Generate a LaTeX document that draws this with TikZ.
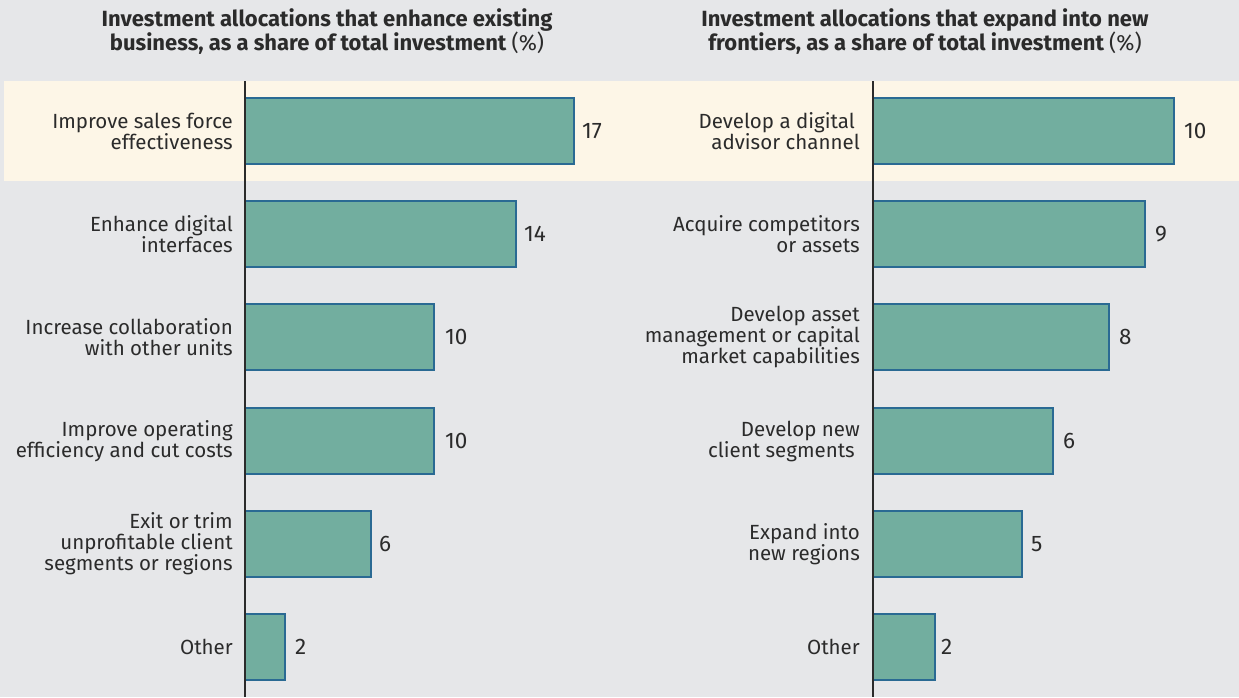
\documentclass[tikz,border=0pt]{standalone}
\usepackage{fontspec}
\setmainfont{Fira Sans}
\usepackage{tikz}
\usetikzlibrary{positioning}
\definecolor{bggray}{HTML}{E6E7E9}
\definecolor{bandcream}{HTML}{FDF6E7}
\definecolor{barfill}{HTML}{72AE9F}
\definecolor{barline}{HTML}{2A6A93}
\definecolor{inkgray}{HTML}{2B2B2B}
\tikzset{
  bar/.style={fill=barfill, draw=barline, line width=1.3pt},
  catlabel/.style={anchor=east, align=right, inner sep=0pt, font=\fontsize{20.5}{21}\selectfont, text=inkgray},
  vallabel/.style={anchor=west, inner sep=0pt, font=\fontsize{22.5}{21}\selectfont, text=inkgray},
  charttitle/.style={align=center, inner sep=0pt, font=\bfseries\fontsize{22}{24}\selectfont, text=inkgray}
}

\begin{document}
\begin{tikzpicture}[x=1pt, y=-1pt]
		%%%%% START %%%%%
		\useasboundingbox (0, 0) rectangle (1239, 697);
		\fill[bggray] (0, 0) rectangle (1239, 697);
		\fill[bandcream] (4, 81) rectangle (1239, 181);
		
		% titles
		\node[charttitle] (titleL) at (327, 32) {Investment allocations that enhance existing\\business, as a share of total investment {\mdseries(\%)}};
		\node[charttitle] (titleR) at (925, 32) {Investment allocations that expand into new\\frontiers, as a share of total investment {\mdseries(\%)}};
		
		% left chart
		\draw[bar] (245, 98) rectangle (574, 164);
		\draw[bar] (245, 201) rectangle (516, 267);
		\draw[bar] (245, 304) rectangle (434, 370);
		\draw[bar] (245, 408) rectangle (434, 474);
		\draw[bar] (245, 511) rectangle (371, 577);
		\draw[bar] (245, 614) rectangle (285, 680);
		\draw[line width=1.3pt, color=inkgray] (245, 81) -- (245, 697);
		
		\node[catlabel] (catL1) at (233, 131) {Improve sales force\\effectiveness};
		\node[catlabel] (catL2) at (233, 234) {Enhance digital\\interfaces};
		\node[catlabel] (catL3) at (233, 337) {Increase collaboration\\with other units};
		\node[catlabel] (catL4) at (233, 441) {Improve operating\\efficiency and cut costs};
		\node[catlabel] (catL5) at (233, 544) {Exit or trim\\unprofitable client\\segments or regions};
		\node[catlabel] (catL6) at (233, 647) {Other};
		
		\node[vallabel] (valL1) at (582, 131) {17};
		\node[vallabel] (valL2) at (524, 234) {14};
		\node[vallabel] (valL3) at (445, 337) {10};
		\node[vallabel] (valL4) at (445, 441) {10};
		\node[vallabel] (valL5) at (379, 544) {6};
		\node[vallabel] (valL6) at (295, 647) {2};
		
		% right chart
		\draw[bar] (873, 98) rectangle (1174, 164);
		\draw[bar] (873, 201) rectangle (1145, 267);
		\draw[bar] (873, 304) rectangle (1109, 370);
		\draw[bar] (873, 408) rectangle (1053, 474);
		\draw[bar] (873, 511) rectangle (1022, 577);
		\draw[bar] (873, 614) rectangle (935, 680);
		\draw[line width=1.3pt, color=inkgray] (873, 81) -- (873, 697);
		
		\node[catlabel] (catR1) at (860, 131) {Develop a digital\hspace*{5pt}\\advisor channel};
		\node[catlabel] (catR2) at (860, 234) {Acquire competitors\\or assets};
		\node[catlabel] (catR3) at (860, 337) {Develop asset\\management or capital\\market capabilities};
		\node[catlabel] (catR4) at (860, 441) {Develop new\\client segments\hspace*{5pt}};
		\node[catlabel] (catR5) at (860, 544) {Expand into\\new regions};
		\node[catlabel] (catR6) at (860, 647) {Other};
		
		\node[vallabel] (valR1) at (1184, 131) {10};
		\node[vallabel] (valR2) at (1155, 234) {9};
		\node[vallabel] (valR3) at (1119, 337) {8};
		\node[vallabel] (valR4) at (1063, 441) {6};
		\node[vallabel] (valR5) at (1031, 544) {5};
		\node[vallabel] (valR6) at (941, 647) {2};
		%%%%% END %%%%%
\end{tikzpicture}
\end{document}
